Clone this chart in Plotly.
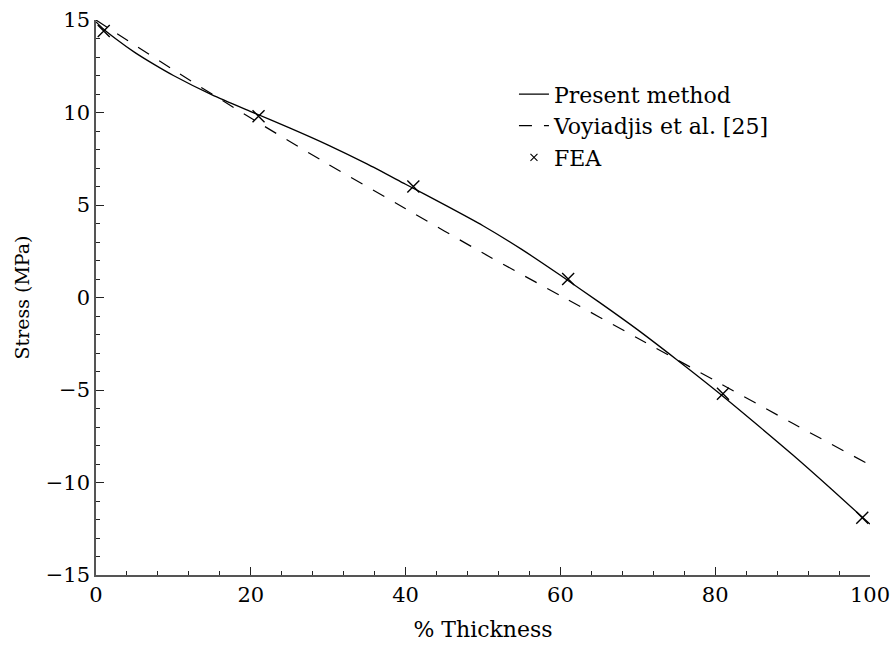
import plotly.graph_objects as go

# Present method (solid curve)
present_x = [0, 1, 2.5, 5, 7.5, 10, 15, 20, 25, 30, 35, 40, 45, 50, 55, 60, 65, 70, 75, 80, 85, 90, 95, 100]
present_y = [14.9, 14.5, 14.0, 13.25, 12.6, 12.0, 10.95, 10.05, 9.17, 8.24, 7.22, 6.12, 5.02, 3.88, 2.6, 1.2, -0.25, -1.75, -3.35, -5.0, -6.73, -8.5, -10.35, -12.25]

# Voyiadjis et al. [25] (dashed)
voy_x = [0, 10, 20, 30, 40, 50, 60, 70, 80, 90, 100]
voy_y = [15, 12.3, 9.7, 7.2, 4.8, 2.4, 0.1, -2.2, -4.5, -6.8, -9.05]

# FEA points
fea_x = [1, 21, 41, 61, 81, 99]
fea_y = [14.4, 9.8, 6.0, 1.0, -5.2, -11.9]

ff = "DejaVu Serif"

fig = go.Figure()
fig.add_trace(go.Scatter(x=present_x, y=present_y, mode="lines", name="Present method",
                         line=dict(color="black", width=1.3, shape="spline", smoothing=0.7)))
fig.add_trace(go.Scatter(x=voy_x, y=voy_y, mode="lines", name="Voyiadjis et al. [25]",
                         line=dict(color="black", width=1.2, dash="13px,12px", shape="spline", smoothing=0.6)))
fig.add_trace(go.Scatter(x=fea_x, y=fea_y, mode="markers", name="FEA", showlegend=False,
                         marker=dict(symbol="x-thin", size=12, color="black",
                                     line=dict(color="black", width=1.4))))
fig.add_trace(go.Scatter(x=[None], y=[None], mode="markers", name="FEA",
                         marker=dict(symbol="x-thin", size=7, color="black",
                                     line=dict(color="black", width=1.1))))

axis_common = dict(
    showline=True, linecolor="#555555", linewidth=1.5,
    ticks="inside", tickcolor="#222222", tickwidth=1.3, ticklen=8,
    showgrid=False, zeroline=False, mirror=False, automargin=False,
    tickfont=dict(family=ff, size=21, color="black"),
)

fig.update_xaxes(range=[0, 100], dtick=20, tick0=0,
                 minor=dict(ticks="inside", dtick=4, ticklen=4, tickcolor="#222222", tickwidth=1.2),
                 title=dict(text="% Thickness", font=dict(family=ff, size=22, color="black"), standoff=16),
                 **axis_common)
fig.update_yaxes(range=[-15, 15], dtick=5, tick0=0,
                 minor=dict(ticks="inside", dtick=1, ticklen=4, tickcolor="#222222", tickwidth=1.2),
                 title=dict(text="Stress (MPa)", font=dict(family=ff, size=19, color="black"), standoff=11),
                 **axis_common)

fig.update_layout(
    width=894, height=653,
    margin=dict(l=96, r=24, t=20, b=78),
    plot_bgcolor="white", paper_bgcolor="white",
    font=dict(family=ff, color="black"),
    legend=dict(x=0.54, y=0.904, xanchor="left", yanchor="top",
                font=dict(family=ff, size=22, color="black"),
                bgcolor="rgba(0,0,0,0)", itemwidth=30, tracegroupgap=0),
    showlegend=True,
)

fig.write_html("out.html")
